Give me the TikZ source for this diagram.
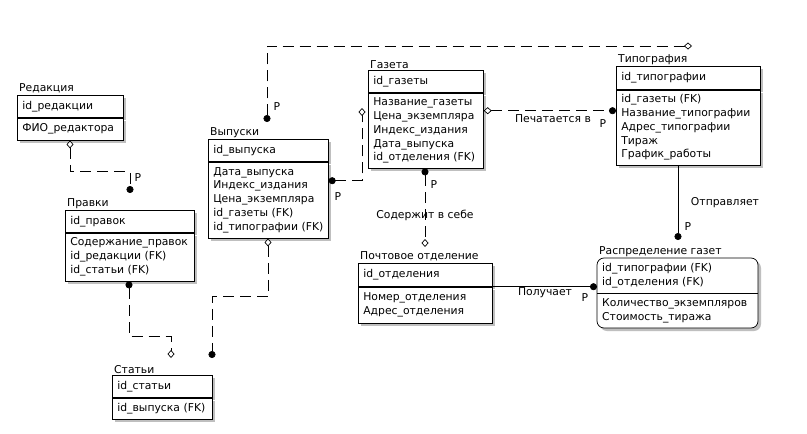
\documentclass[tikz,border=0pt]{standalone}
\usepackage{fontspec}
\setmainfont{DejaVu Sans}
\usetikzlibrary{arrows.meta,positioning,shadows,calc}
\newcommand{\erfont}{\fontsize{10.8}{13.8}\selectfont}
\tikzset{
    entkey/.style={rectangle, draw, fill=white, line width=0.7pt, anchor=north west, inner xsep=5pt, inner ysep=2pt, align=left, minimum height=22pt, font=\erfont, drop shadow={shadow xshift=3pt, shadow yshift=-3pt, fill=gray!50, opacity=1}},
    enttext/.style={rectangle, anchor=north west, inner xsep=5pt, inner ysep=2pt, align=left, font=\erfont},
    enttitle/.style={anchor=south west, inner xsep=2pt, inner ysep=1.5pt, font=\erfont},
    rel/.style={draw, line width=0.7pt, dash pattern=on 11pt off 6pt},
    idrel/.style={draw, line width=0.7pt},
    lbl/.style={font=\erfont, inner sep=1pt},
    erdiamond/.tip={Diamond[length=8pt, width=7pt, fill=white, line width=0.7pt]},
    erdot/.tip={Circle[length=7pt]}
}

\begin{document}
\begin{tikzpicture}[x=1pt, y=-1pt]
    \fill[white] (0,0) rectangle (807,434);
    \useasboundingbox (0,0) rectangle (807,434);

    % Редакция
    \node[entkey, text width=96pt] at (17,95) (redk) {id\_редакции};
    \node[entkey, text width=96pt] at (redk.south west) (reda) {ФИО\_редактора};
    \node[enttitle] at (redk.north west) (redt) {Редакция};

    % Правки
    \node[entkey, text width=119pt] at (65,210) (prak) {id\_правок};
    \node[entkey, text width=119pt, minimum height=48pt] at (prak.south west) (praa) {
        Содержание\_правок\\
        id\_редакции (FK)\\
        id\_статьи (FK)
    };
    \node[enttitle] at (prak.north west) (prat) {Правки};

    % Статьи
    \node[entkey, text width=90pt] at (112,375) (statk) {id\_статьи};
    \node[entkey, text width=90pt, minimum height=21pt] at (statk.south west) (stata) {id\_выпуска (FK)};
    \node[enttitle] at (statk.north west) (statt) {Статьи};

    % Выпуски
    \node[entkey, text width=110pt] at (208,139) (vypk) {id\_выпуска};
    \node[entkey, text width=110pt, minimum height=76pt] at (vypk.south west) (vypa) {
        Дата\_выпуска\\
        Индекс\_издания\\
        Цена\_экземпляра\\
        id\_газеты (FK)\\
        id\_типографии (FK)
    };
    \node[enttitle] at (vypk.north west) (vypt) {Выпуски};

    % Газета
    \node[entkey, text width=105pt] at (368,70) (gazk) {id\_газеты};
    \node[entkey, text width=105pt, minimum height=75pt] at (gazk.south west) (gaza) {
        Название\_газеты\\
        Цена\_экземпляра\\
        Индекс\_издания\\
        Дата\_выпуска\\
        id\_отделения (FK)
    };
    \node[enttitle] at (gazk.north west) (gazt) {Газета};

    % Типография
    \node[entkey, text width=134pt, minimum height=23pt] at (616,66) (tipk) {id\_типографии};
    \node[entkey, text width=134pt, minimum height=75pt] at (tipk.south west) (tipa) {
        id\_газеты (FK)\\
        Название\_типографии\\
        Адрес\_типографии\\
        Тираж\\
        График\_работы
    };
    \node[enttitle] at (tipk.north west) (tipt) {Типография};

    % Почтовое отделение
    \node[entkey, text width=124pt, minimum height=23pt] at (358,263) (pochk) {id\_отделения};
    \node[entkey, text width=124pt, minimum height=36pt] at (pochk.south west) (pocha) {
        Номер\_отделения\\
        Адрес\_отделения
    };
    \node[enttitle] at (pochk.north west) (pocht) {Почтовое отделение};

    % Распределение газет (rounded box)
    \fill[gray!50, rounded corners=7pt] (600,261) rectangle (761,331);
    \draw[fill=white, line width=0.7pt, rounded corners=7pt] (597,258) rectangle (758,328);
    \node[enttext, text width=151pt, minimum height=35pt] at (597,258) (rask) {
        id\_типографии (FK)\\
        id\_отделения (FK)
    };
    \node[enttext, text width=151pt, minimum height=35pt] at (rask.south west) (rasa) {
        Количество\_экземпляров\\
        Стоимость\_тиража
    };
    \draw[line width=0.7pt] (rask.south west) -- (rask.south east);
    \node[enttitle] at (rask.north west) (rast) {Распределение газет};

    % Free ends of the connectors
    \coordinate (e1) at (130,193);
    \coordinate (e2) at (171,358);
    \coordinate (e3) at (212,358);
    \coordinate (e4) at (267,122);
    \coordinate (e5) at (692,46);
    \coordinate (e6) at (362,108);
    \coordinate (e7) at (425,247);
    \coordinate (e8) at (678,240);

    % Connectors
    \draw[rel, erdiamond-erdot] ([xshift=53pt]reda.south west) -- ++(0,31) -| (e1);
    \draw[rel, erdot-erdiamond] ([xshift=64pt]praa.south west) -- ++(0,55) -| (e2);
    \draw[rel, erdiamond-erdot] ([xshift=60pt]vypa.south west) -- ++(0,58) -| (e3);
    \draw[rel, erdot-erdiamond] (e4) |- (e5);
    \draw[rel, erdot-erdiamond] ([yshift=-19pt]vypa.north east) -| (e6);
    \draw[rel, erdiamond-erdot] ([yshift=-18pt]gaza.north east) -- ([yshift=-18pt]gaza.north east -| tipa.west);
    \draw[rel, erdot-erdiamond] ([xshift=57pt]gaza.south west) -- (e7);
    \draw[idrel, -erdot] ([xshift=62pt]tipa.south west) -- (e8);
    \draw[idrel, -erdot] (pochk.south east) -- (pochk.south east -| rask.west);

    % Labels
    \node[lbl] at (138,178) (l1) {P};
    \node[lbl] at (277,107) (l2) {P};
    \node[lbl] at (338,197) (l3) {P};
    \node[lbl] at (553,119) (l4) {Печатается в};
    \node[lbl] at (603,124) (l5) {P};
    \node[lbl] at (434,185) (l6) {P};
    \node[lbl] at (425,215) (l7) {Содержит в себе};
    \node[lbl] at (725,203) (l8) {Отправляет};
    \node[lbl] at (688,227) (l9) {P};
    \node[lbl] at (545,293) (l10) {Получает};
    \node[lbl] at (585,298) (l11) {P};
\end{tikzpicture}
\end{document}
